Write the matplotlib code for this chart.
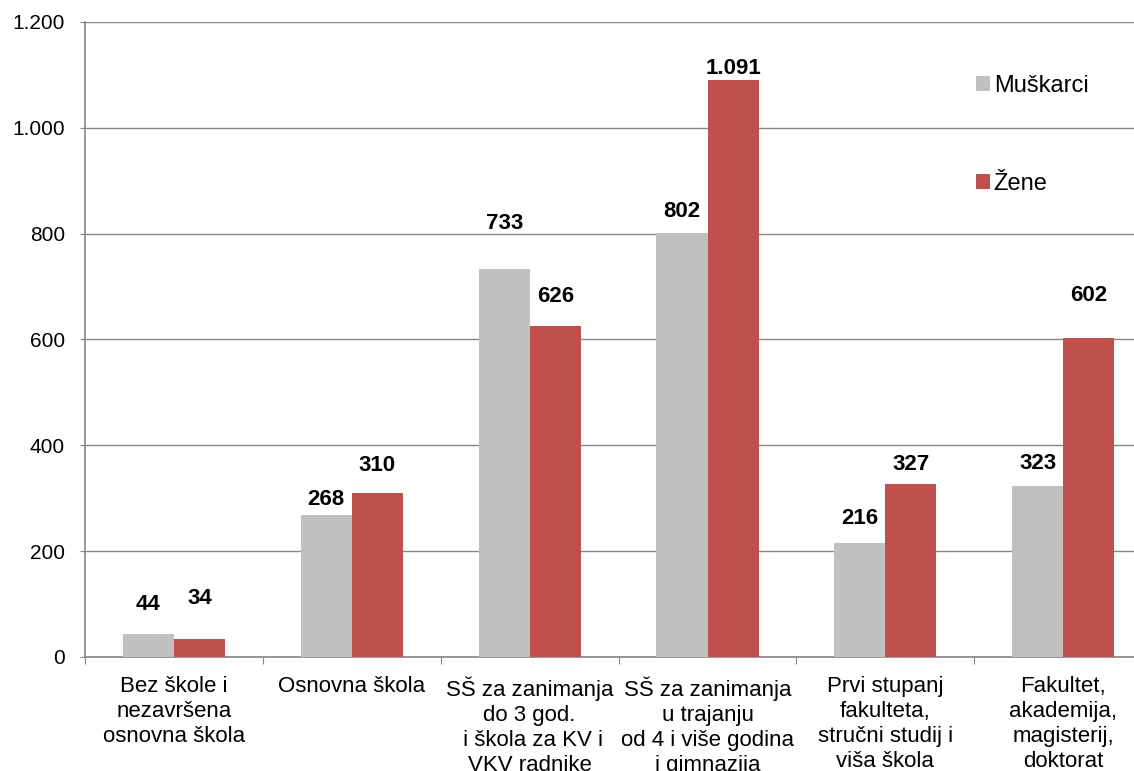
import numpy as np
import matplotlib.pyplot as plt

plt.rcParams['font.family'] = ['Liberation Sans', 'DejaVu Sans']

# podaci
kategorije = ["Bez škole i\nnezavršena\nosnovna škola",
              "Osnovna škola",
              "SŠ za zanimanja\ndo 3 god.\n i škola za KV i\nVKV radnike",
              "SŠ za zanimanja\nu trajanju\nod 4 i više godina\ni gimnazija",
              "Prvi stupanj\nfakulteta,\nstručni studij i\nviša škola",
              "Fakultet,\nakademija,\nmagisterij,\ndoktorat"]
muskarci = [44, 268, 733, 802, 216, 323]
zene = [34, 310, 626, 1091, 327, 602]

siva = '#C0C0C0'
crvena = '#C0504D'
os_boja = '#868686'

fig = plt.figure(figsize=(11.34, 7.71), dpi=100)
ax = fig.add_axes([0.075, 0.148, 0.941, 0.8235])

x = np.arange(len(kategorije))
w = 0.287
ax.bar(x - w/2, muskarci, w, color=siva, label='Muškarci', zorder=3)
ax.bar(x + w/2, zene, w, color=crvena, label='Žene', zorder=3)

def fmt(v):
    return f"{v:,}".replace(",", ".")

# pomaci oznaka iznad stupaca (u tockama), kao u Excelu
pomak_m = [21, 11, 33, 15, 17, 16]
pomak_z = [29, 20, 21, 8, 14, 31]
for xi, v, p in zip(x - w/2, muskarci, pomak_m):
    ax.annotate(fmt(v), (xi, v), xytext=(0, p), textcoords='offset points',
                ha='center', va='center', fontsize=16, fontweight='bold')
for xi, v, p in zip(x + w/2, zene, pomak_z):
    ax.annotate(fmt(v), (xi, v), xytext=(0, p), textcoords='offset points',
                ha='center', va='center', fontsize=16, fontweight='bold')

ax.set_ylim(0, 1200)
ax.set_xlim(-0.5, len(kategorije) - 0.5)
ax.set_yticks(range(0, 1201, 200))
ax.set_yticklabels([fmt(v) for v in range(0, 1201, 200)], fontsize=15)
ax.yaxis.grid(True, color=os_boja, linewidth=1, zorder=0)

ax.set_xticks(np.arange(-0.5, len(kategorije)))
ax.set_xticklabels([])
ax.set_xticks(x, minor=True)
ax.set_xticklabels(kategorije, minor=True, fontsize=16, linespacing=1.25)
ax.tick_params(axis='x', which='minor', length=0, pad=14)
ax.tick_params(axis='x', which='major', length=5, color=os_boja, direction='out')
ax.tick_params(axis='y', length=3.6, color=os_boja, pad=11)

for s in ['top', 'right']:
    ax.spines[s].set_visible(False)
for s in ['left', 'bottom']:
    ax.spines[s].set_color(os_boja)
    ax.spines[s].set_linewidth(1.2)

ax.legend(loc='upper left', bbox_to_anchor=(0.815, 0.95), frameon=False,
          fontsize=17, labelspacing=3.2, handlelength=0.6, handleheight=0.6,
          handletextpad=0.15)

fig.savefig('out.png', dpi=100)
